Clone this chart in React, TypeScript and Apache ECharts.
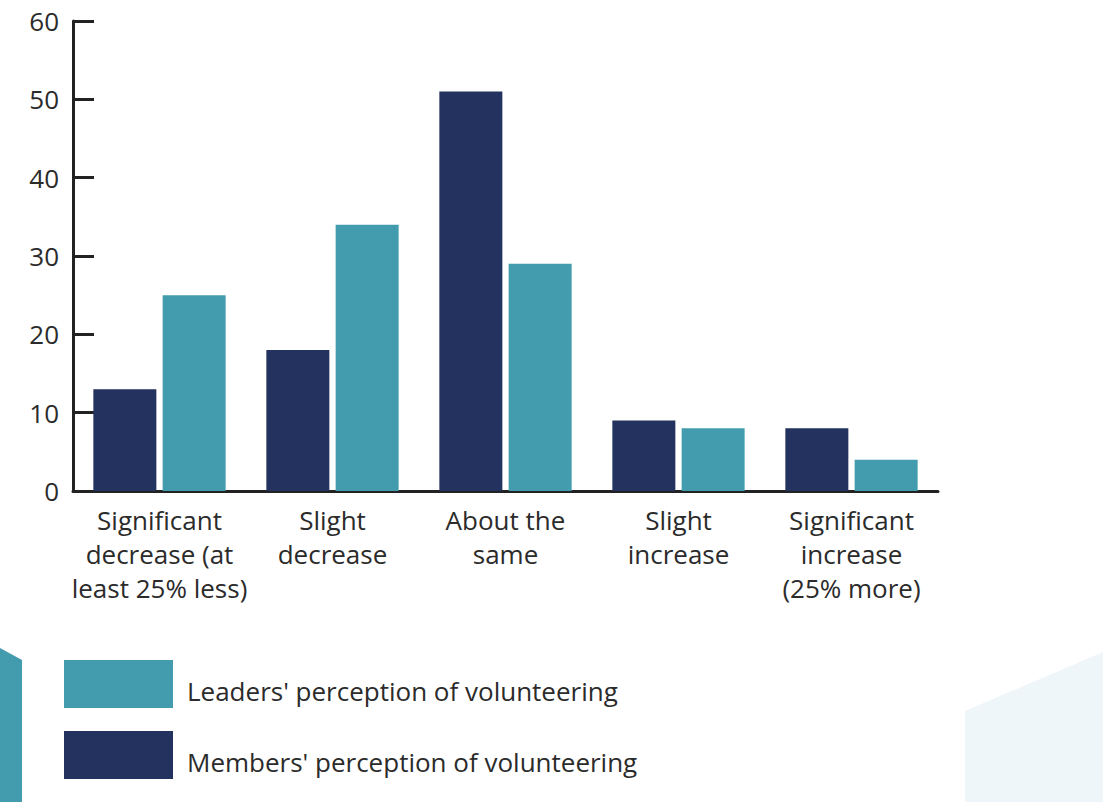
import React, { useEffect, useRef } from "react";
import * as echarts from "echarts";

const categories = [
  "Significant\ndecrease (at\nleast 25% less)",
  "Slight\ndecrease",
  "About the\nsame",
  "Slight\nincrease",
  "Significant\nincrease\n(25% more)",
];
const membersName = "Members' perception of volunteering";
const leadersName = "Leaders' perception of volunteering";
const membersValues = [13, 18, 51, 9, 8];
const leadersValues = [25, 34, 29, 8, 4];
const yTicks = { min: 0, max: 60, interval: 10 };

const DARK = "#23325e";
const TEAL = "#439cae";
const TEXT = "#2b2b2b";
const FONT = "'Open Sans', sans-serif";

export default function App() {
  const ref = useRef<HTMLDivElement>(null);
  useEffect(() => {
    if (!ref.current) return;
    const chart = echarts.init(ref.current, undefined, { renderer: "svg" });
    chart.setOption({
      animation: false,
      backgroundColor: "#ffffff",
      textStyle: { fontFamily: FONT },
      graphic: [
        {
          type: "polygon",
          z: -1,
          shape: { points: [[0, 648], [22, 660], [22, 802], [0, 802]] },
          style: { fill: TEAL },
        },
        {
          type: "polygon",
          z: -1,
          shape: { points: [[965, 711], [1103, 652], [1103, 802], [965, 802]] },
          style: { fill: "#eef6fa" },
        },
      ],
      grid: { left: 73, top: 21, right: 165, bottom: 311, containLabel: false },
      legend: {
        orient: "vertical",
        left: 64,
        top: 660,
        padding: 0,
        itemWidth: 109,
        itemHeight: 48,
        itemGap: 23,
        icon: "rect",
        data: [leadersName, membersName],
        formatter: "{t|{name}}",
        textStyle: {
          fontSize: 26,
          color: TEXT,
          fontFamily: FONT,
          rich: {
            t: {
              fontSize: 26,
              color: TEXT,
              fontFamily: FONT,
              padding: [14, 0, 0, 9],
            },
          },
        },
      },
      xAxis: {
        type: "category",
        data: categories,
        boundaryGap: true,
        axisLine: { lineStyle: { color: "#222", width: 3 } },
        axisTick: { inside: true, length: 12, lineStyle: { color: "#222", width: 3 } },
        axisLabel: {
          fontSize: 26,
          lineHeight: 34,
          color: TEXT,
          margin: 12,
          fontFamily: FONT,
          interval: 0,
        },
      },
      yAxis: {
        type: "value",
        min: yTicks.min,
        max: yTicks.max,
        interval: yTicks.interval,
        splitLine: { show: false },
        axisLine: { show: true, lineStyle: { color: "#222", width: 3 } },
        axisTick: { show: true, inside: true, length: 21, lineStyle: { color: "#222", width: 3 } },
        axisLabel: { fontSize: 26, color: TEXT, margin: 14, fontFamily: FONT },
      },
      series: [
        {
          name: membersName,
          type: "bar",
          data: membersValues,
          barWidth: 63,
          barGap: "10%",
          itemStyle: { color: DARK },
        },
        {
          name: leadersName,
          type: "bar",
          data: leadersValues,
          barWidth: 63,
          barGap: "10%",
          itemStyle: { color: TEAL },
        },
      ],
    });
    return () => chart.dispose();
  }, []);
  return (
    <div
      ref={ref}
      style={{ position: "fixed", left: 0, top: 0, width: 1103, height: 802 }}
    />
  );
}
